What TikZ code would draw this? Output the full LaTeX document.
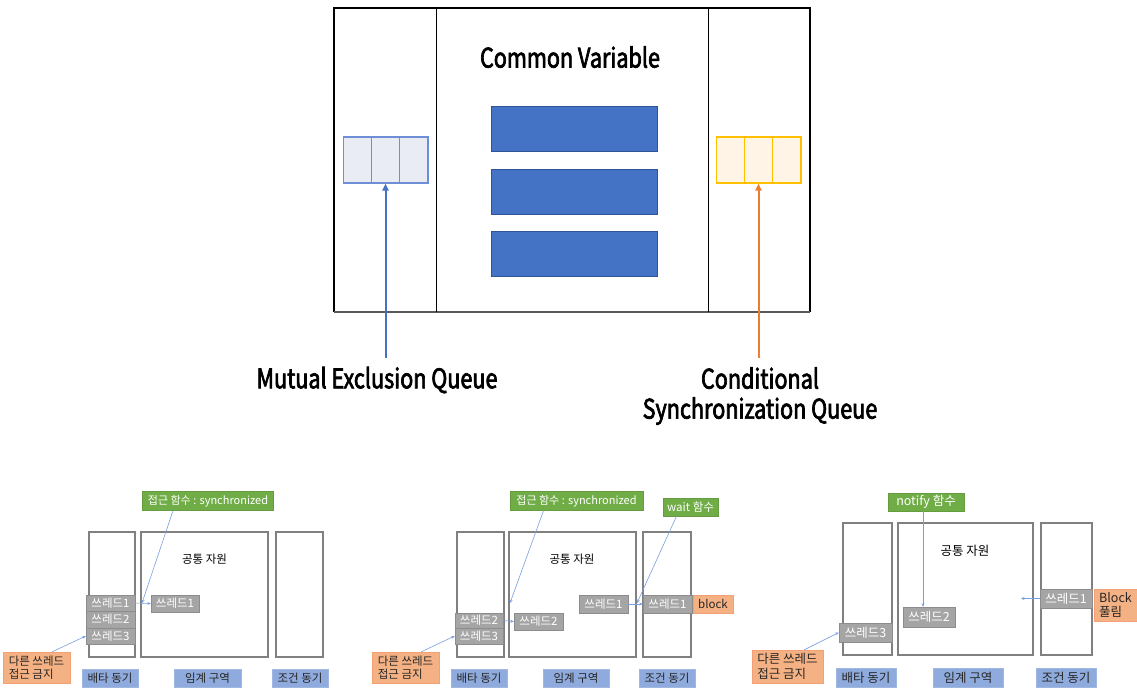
\documentclass[tikz,border=0pt]{standalone}
\usepackage{fontspec}
\setmainfont{Noto Sans CJK KR}
\newfontfamily\headfont[FakeStretch=0.8, FakeBold=2.5]{Noto Sans CJK KR}
\usetikzlibrary{arrows.meta}

\definecolor{barblue}{HTML}{4472C4}
\definecolor{barline}{HTML}{2F5597}
\definecolor{qblue}{HTML}{6E8FD8}
\definecolor{qbluefill}{HTML}{E9EBF5}
\definecolor{qyellow}{HTML}{FFC000}
\definecolor{qyellowfill}{HTML}{FFF4E6}
\definecolor{arrorange}{HTML}{ED7D31}
\definecolor{taggreen}{HTML}{70AD47}
\definecolor{tagorange}{HTML}{F4B183}
\definecolor{tagblue}{HTML}{8FAADC}
\definecolor{thrgray}{HTML}{A5A5A5}
\definecolor{colgray}{HTML}{808080}
\definecolor{linkblue}{HTML}{7A9FDD}

\tikzset{
  small/.style={font=\fontsize{11.5}{13.5}\selectfont},
  large/.style={font=\fontsize{12.5}{14.5}\selectfont},
  box/.style={inner sep=0pt, small},
  thread/.style={box, draw=thrgray!85!black, fill=thrgray, text=white},
  grntag/.style={box, draw=taggreen!90!black, fill=taggreen, text=white},
  orgtag/.style={box, draw=tagorange!90!red, fill=tagorange, text=black!85},
  blutag/.style={box, draw=tagblue!85!white, fill=tagblue, text=black!85},
  colbox/.style={draw=colgray, line width=1.2pt},
  varbar/.style={draw=barline, fill=barblue, line width=0.8pt, minimum width=166, minimum height=45},
  mxcell/.style={draw=qblue, fill=qbluefill, line width=1.1pt, minimum width=28.3, minimum height=46},
  cscell/.style={draw=qyellow, fill=qyellowfill, line width=1.1pt, minimum width=28.3, minimum height=46},
  link/.style={draw=linkblue, line width=0.6pt, -{Stealth[length=3.5pt,width=3pt]}},
  head/.style={font=\headfont\fontsize{27}{30}\selectfont}
}

\begin{document}
\begin{tikzpicture}[x=1pt,y=-1pt]
    \fill[white] (0,0) rectangle (1137,691);
    \useasboundingbox (0,0) rectangle (1137,691);

    % monitor
    \draw[line width=1.2pt] (334,312) -- (334,8) -- (810,8) -- (810,312);
    \draw[line width=2.5pt, black!65] (334,312) -- (810,312);
    \foreach \x in {436,708}
        \draw[line width=1pt] (\x,8) -- (\x,312);

    \node[head] (cv) at (570,57) {Common Variable};
    \foreach \i/\y in {1/129,2/191.5,3/253.5}
        \node[varbar] (var\i) at (574,\y) {};

    \foreach \i/\x in {1/357.2,2/385.5,3/413.8}
        \node[mxcell] (mq\i) at (\x,160) {};
    \foreach \i/\x in {1/730.2,2/758.5,3/786.8}
        \node[cscell] (cq\i) at (\x,160) {};

    \node[head] (mxq) at (377,380) {Mutual Exclusion Queue};
    \node[head, align=center] (csq) at (760,396) {Conditional\\Synchronization Queue};
    \coordinate (mxtail) at (385.5,358);
    \coordinate (cstail) at (758.5,358);
    \draw[barblue, line width=2pt, -{Triangle[length=7pt,width=6pt]}] (mxtail) -- (mq2.south);
    \draw[arrorange, line width=2pt, -{Triangle[length=7pt,width=6pt]}] (cstail) -- (cq2.south);

    % three columns per step
    \foreach \a/\b/\t/\u in {89/135/532/657, 141/268/532/657, 276/323/532/657,
                             457/504/532/657, 509/636/532/657, 643/691/532/657,
                             843/892/523/655, 898/1033/523/655, 1041/1092/523/655}
        \draw[colbox] (\a,\t) rectangle (\b,\u);

    % step 1
    \node[small] (res1) at (204.5,559) {공통 자원};
    \node[grntag, minimum width=131, minimum height=19, font=\fontsize{11}{13}\selectfont] (acc1) at (208,501) {접근 함수 : synchronized};
    \node[thread, minimum width=49, minimum height=16.5] (t1a) at (110.5,603) {쓰레드1};
    \node[thread, minimum width=49, minimum height=16.5] (t2a) at (110.5,619.5) {쓰레드2};
    \node[thread, minimum width=49, minimum height=16.5] (t3a) at (110.5,636) {쓰레드3};
    \node[thread, minimum width=48, minimum height=17] (t1b) at (175,603.5) {쓰레드1};
    \node[orgtag, minimum width=67, minimum height=31, align=left] (deny1) at (36.5,667.5) {다른 쓰레드\\접근 금지};
    \node[blutag, minimum width=56, minimum height=18] (mx1) at (110,678) {배타 동기};
    \node[blutag, minimum width=67, minimum height=18] (cr1) at (207.5,678) {임계 구역};
    \node[blutag, minimum width=56, minimum height=18] (cd1) at (300,678) {조건 동기};
    \coordinate (in1) at (142,603);
    \draw[link] (acc1.south) ++(-35,0) -- (in1);
    \draw[link] (t1a.east) -- (t1b.west);
    \draw[link] (deny1.45) -- (t3a.west);

    % step 2
    \node[small] (res2) at (572,559) {공통 자원};
    \node[grntag, minimum width=133, minimum height=19, font=\fontsize{11}{13}\selectfont] (acc2) at (576.5,501) {접근 함수 : synchronized};
    \node[grntag, minimum width=55, minimum height=18] (wait2) at (690.5,507) {wait 함수};
    \node[thread, minimum width=49, minimum height=18] (t1c) at (603.5,604) {쓰레드1};
    \node[thread, minimum width=49, minimum height=18] (t1d) at (667.5,604) {쓰레드1};
    \node[orgtag, minimum width=40, minimum height=18] (blk2) at (713,604) {block};
    \node[thread, minimum width=48, minimum height=15.5] (t2c) at (479,620.5) {쓰레드2};
    \node[thread, minimum width=48, minimum height=16] (t3c) at (479,636) {쓰레드3};
    \node[thread, minimum width=49, minimum height=17] (t2d) at (538.5,621.5) {쓰레드2};
    \node[orgtag, minimum width=67, minimum height=31, align=left] (deny2) at (405.5,667.5) {다른 쓰레드\\접근 금지};
    \node[blutag, minimum width=56, minimum height=18] (mx2) at (479,678) {배타 동기};
    \node[blutag, minimum width=66, minimum height=18] (cr2) at (576,678) {임계 구역};
    \node[blutag, minimum width=56, minimum height=18] (cd2) at (667,678) {조건 동기};
    \coordinate (in2) at (510,603);
    \coordinate (in3) at (637,603);
    \draw[link] (acc2.south) ++(-33,0) -- (in2);
    \draw[link] (wait2.south) ++(-14,0) -- (in3);
    \draw[link] (t1c.east) -- (t1d.west);
    \draw[link] (t2c.east) -- (t2d.west);
    \draw[link] (deny2.45) -- (t3c.west);

    % step 3
    \node[large] (res3) at (965,551) {공통 자원};
    \node[grntag, large, minimum width=76, minimum height=18] (ntf3) at (926,502) {notify 함수};
    \node[thread, large, minimum width=52, minimum height=19] (t1f) at (1066,598.5) {쓰레드1};
    \node[orgtag, large, minimum width=43, minimum height=32, align=left] (free3) at (1115.5,605) {Block\\풀림};
    \node[thread, large, minimum width=52, minimum height=20] (t2e) at (929,617) {쓰레드2};
    \node[thread, large, minimum width=53, minimum height=19] (t3f) at (865.5,632.5) {쓰레드3};
    \node[orgtag, large, minimum width=71, minimum height=33, align=left] (deny3) at (787.5,666.5) {다른 쓰레드\\접근 금지};
    \node[blutag, large, minimum width=60, minimum height=19] (mx3) at (866,677.5) {배타 동기};
    \node[blutag, large, minimum width=70, minimum height=19] (cr3) at (968,677.5) {임계 구역};
    \node[blutag, large, minimum width=60, minimum height=19] (cd3) at (1066,677.5) {조건 동기};
    \coordinate (out3) at (1021,598.5);
    \draw[link] ([xshift=-3]ntf3.south) -- ([xshift=-3]ntf3.south |- t2e.north);
    \draw[link] (t1f.west) -- (out3);
    \draw[link] (deny3.45) -- (t3f.west);
\end{tikzpicture}
\end{document}
